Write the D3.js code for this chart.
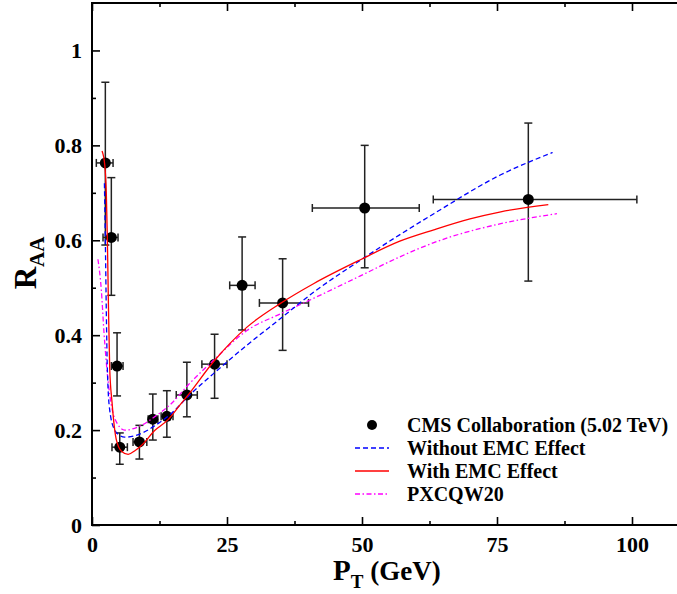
<!DOCTYPE html>
<html>
<head>
<meta charset="utf-8">
<script src="https://cdn.jsdelivr.net/npm/d3@7"></script>
<style>
  body { margin: 0; background: #fff; }
  svg text { font-family: "Liberation Serif", "Times New Roman", Times, serif !important; font-weight: bold; }
</style>
</head>
<body>
<svg id="chart" width="677" height="594"></svg>
<script>
// CMS points: pT, R_AA, pT range, R_AA error range
var pt    = [2.47, 3.58, 4.64, 5.14, 8.78, 11.26, 13.86, 17.57, 22.7, 27.8, 35.3, 50.5, 80.8];
var raa   = [0.763, 0.606, 0.335, 0.164, 0.175, 0.223, 0.229, 0.274, 0.339, 0.505, 0.468, 0.668, 0.686];
var ptLo  = [0.8, 2.04, 3.58, 3.7, 7.6, 10.4, 12.8, 15.6, 20.35, 25.5, 31.0, 40.8, 63.2];
var ptHi  = [3.9, 4.82, 5.75, 6.55, 10.15, 12.2, 15.0, 19.5, 25.0, 30.2, 40.1, 60.6, 100.9];
var raaLo = [0.59, 0.484, 0.272, 0.128, 0.139, 0.179, 0.185, 0.228, 0.267, 0.411, 0.368, 0.542, 0.514];
var raaHi = [0.933, 0.732, 0.405, 0.194, 0.21, 0.276, 0.283, 0.343, 0.402, 0.607, 0.561, 0.8, 0.847];

// model curves [pT, R_AA]
var withoutEMC = [[2.3,0.72],[2.47,0.6],[2.65,0.45],[2.84,0.33],[3.28,0.242],[4.2,0.2],[5,0.19],[6.06,0.185],
  [9.15,0.193],[11.6,0.209],[14.7,0.235],[18,0.273],[22.5,0.319],[28.7,0.379],[34.9,0.435],[41.1,0.491],
  [49.7,0.558],[63.3,0.656],[75.7,0.738],[85.3,0.785]];
var withEMC = [[1.86,0.788],[2.35,0.76],[2.65,0.70],[2.85,0.60],[3.05,0.46],[3.28,0.33],[3.7,0.26],[4.5,0.18],
  [5.5,0.155],[6.7,0.149],[8,0.157],[9.2,0.168],[11.6,0.199],[14.1,0.222],[16.3,0.253],[17.8,0.274],
  [22.5,0.344],[28.7,0.417],[34.9,0.467],[41.1,0.509],[49.7,0.559],[57,0.598],[63.3,0.622],[70,0.645],
  [75.7,0.66],[84.5,0.675]];
var pxcqw20 = [[1.1,0.56],[1.73,0.495],[2.23,0.404],[2.97,0.305],[4.2,0.225],[6.06,0.2],[9.15,0.21],
  [11.6,0.228],[14.7,0.256],[17.8,0.295],[22.5,0.347],[28.7,0.41],[34.9,0.445],[41.1,0.478],[49.7,0.525],
  [57,0.565],[63.3,0.595],[75.7,0.635],[86.1,0.656]];

var xTicks = [0, 25, 50, 75, 100];
var xMinor = [12.5, 37.5, 62.5, 87.5];
var yTicks = [0, 0.2, 0.4, 0.6, 0.8, 1];
var yMinor = [0.1, 0.3, 0.5, 0.7, 0.9];

var legendNames = ["CMS Collaboration (5.02 TeV)", "Without EMC Effect", "With EMC Effect", "PXCQW20"];

var FONT = "'Liberation Serif', 'Times New Roman', serif";
var svg = d3.select("#chart");

var x = d3.scaleLinear().domain([0, 110]).range([92, 686]);
var y = d3.scaleLinear().domain([0, 1.1]).range([525, 3]);

// frame
svg.append("rect")
  .attr("x", x(0)).attr("y", y(1.1))
  .attr("width", x(110) - x(0)).attr("height", y(0) - y(1.1))
  .attr("fill", "none").attr("stroke", "#000").attr("stroke-width", 2);

function styleAxis(g) {
  g.attr("font-family", FONT);
  g.select(".domain").remove();
  g.selectAll("line").attr("stroke", "#000").attr("stroke-width", 1.6);
  g.selectAll("text").attr("fill", "#000").style("font-size", "22px");
}

var fmt = function(d) { return d === 0 ? "0" : String(+d.toFixed(1)); };

svg.append("g").attr("transform", "translate(0," + y(0) + ")")
  .call(d3.axisBottom(x).tickValues(xTicks).tickSize(-8).tickPadding(11))
  .call(styleAxis);
svg.append("g").attr("transform", "translate(0," + y(0) + ")")
  .call(d3.axisBottom(x).tickValues(xMinor).tickSize(-4).tickFormat(""))
  .call(styleAxis);
svg.append("g").attr("transform", "translate(0," + y(1.1) + ")")
  .call(d3.axisTop(x).tickValues(xTicks).tickSize(-8).tickFormat(""))
  .call(styleAxis);
svg.append("g").attr("transform", "translate(0," + y(1.1) + ")")
  .call(d3.axisTop(x).tickValues(xMinor).tickSize(-4).tickFormat(""))
  .call(styleAxis);
svg.append("g").attr("transform", "translate(" + x(0) + ",0)")
  .call(d3.axisLeft(y).tickValues(yTicks).tickSize(-8).tickPadding(10).tickFormat(fmt))
  .call(styleAxis);
svg.append("g").attr("transform", "translate(" + x(0) + ",0)")
  .call(d3.axisLeft(y).tickValues(yMinor).tickSize(-4).tickFormat(""))
  .call(styleAxis);

// axis titles
var yl = svg.append("text")
  .attr("font-family", FONT)
  .attr("transform", "translate(36,263) rotate(-90)")
  .attr("text-anchor", "middle");
yl.append("tspan").style("font-size", "31px").text("R");
yl.append("tspan").style("font-size", "21px").attr("dy", 8).text("AA");

var xl = svg.append("text").attr("font-family", FONT).attr("x", 333).attr("y", 580);
xl.append("tspan").style("font-size", "29px").text("P");
xl.append("tspan").style("font-size", "19px").attr("dy", 8).text("T");
xl.append("tspan").style("font-size", "27px").attr("dy", -8).text(" (GeV)");

// data
var pts = d3.range(pt.length).map(function(i) {
  return {x: pt[i], y: raa[i], x0: ptLo[i], x1: ptHi[i], y0: raaLo[i], y1: raaHi[i]};
});
var cap = 4;
var eb = svg.append("g").attr("stroke", "#222").attr("stroke-width", 1.5).attr("fill", "none");
pts.forEach(function(d) {
  eb.append("line").attr("x1", x(d.x0)).attr("x2", x(d.x1)).attr("y1", y(d.y)).attr("y2", y(d.y));
  eb.append("line").attr("x1", x(d.x)).attr("x2", x(d.x)).attr("y1", y(d.y0)).attr("y2", y(d.y1));
  eb.append("line").attr("x1", x(d.x0)).attr("x2", x(d.x0)).attr("y1", y(d.y) - cap).attr("y2", y(d.y) + cap);
  eb.append("line").attr("x1", x(d.x1)).attr("x2", x(d.x1)).attr("y1", y(d.y) - cap).attr("y2", y(d.y) + cap);
  eb.append("line").attr("x1", x(d.x) - cap).attr("x2", x(d.x) + cap).attr("y1", y(d.y0)).attr("y2", y(d.y0));
  eb.append("line").attr("x1", x(d.x) - cap).attr("x2", x(d.x) + cap).attr("y1", y(d.y1)).attr("y2", y(d.y1));
});
svg.append("g").selectAll("circle").data(pts).enter().append("circle")
  .attr("cx", function(d) { return x(d.x); })
  .attr("cy", function(d) { return y(d.y); })
  .attr("r", 5.5).attr("fill", "#000");

var line = d3.line()
  .x(function(d) { return x(d[0]); })
  .y(function(d) { return y(d[1]); })
  .curve(d3.curveMonotoneX);

var series = [
  {data: pxcqw20, color: "#ff00ff", dash: "5,2.5,1.5,2.5"},
  {data: withoutEMC, color: "#0000ff", dash: "5,3"},
  {data: withEMC, color: "#ff0000", dash: null}
];
series.forEach(function(s) {
  svg.append("path").datum(s.data)
    .attr("d", line)
    .attr("fill", "none")
    .attr("stroke", s.color)
    .attr("stroke-width", 1.3)
    .attr("stroke-dasharray", s.dash);
});

// legend
var lg = svg.append("g").attr("font-family", FONT);
var rowY = [425, 448, 471, 494];
lg.append("circle").attr("cx", 372).attr("cy", rowY[0]).attr("r", 5).attr("fill", "#000");
[series[1], series[2], series[0]].forEach(function(s, i) {
  lg.append("line").attr("x1", 355).attr("x2", 389)
    .attr("y1", rowY[i + 1]).attr("y2", rowY[i + 1])
    .attr("stroke", s.color).attr("stroke-width", 1.3)
    .attr("stroke-dasharray", s.dash);
});
legendNames.forEach(function(n, i) {
  lg.append("text").attr("x", 407).attr("y", rowY[i]).attr("dy", "0.35em")
    .style("font-size", "20px").text(n);
});
</script>
</body>
</html>
